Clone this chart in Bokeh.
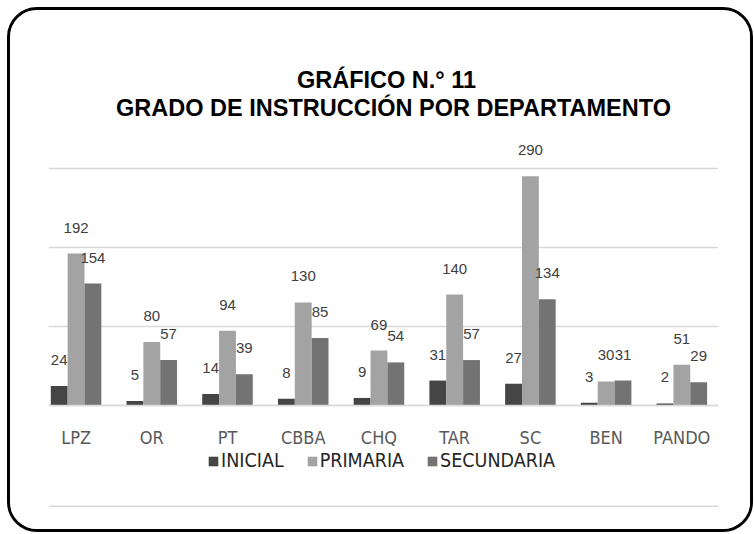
from bokeh.plotting import figure
from bokeh.models import (ColumnDataSource, Range1d, FixedTicker, LabelSet, Label,
                          Legend, LegendItem, Span)
from bokeh.core.properties import value
from bokeh.transform import dodge
from bokeh.embed import file_html
from bokeh.resources import INLINE

# ---- data ----
departamentos = ["LPZ", "OR", "PT", "CBBA", "CHQ", "TAR", "SC", "BEN", "PANDO"]
inicial = [24, 5, 14, 8, 9, 31, 27, 3, 2]
primaria = [192, 80, 94, 130, 69, 140, 290, 30, 51]
secundaria = [154, 57, 39, 85, 54, 57, 134, 31, 29]
series_names = ["INICIAL", "PRIMARIA", "SECUNDARIA"]
series_colors = ["#454545", "#a3a3a3", "#737373"]
grid_values = [0, 100, 200, 300]
title_lines = ["GRÁFICO N.° 11", "GRADO DE INSTRUCCIÓN POR DEPARTAMENTO"]

idx = list(range(len(departamentos)))
source = ColumnDataSource(dict(x=idx, INICIAL=inicial, PRIMARIA=primaria,
                               SECUNDARIA=secundaria))

FONT = "DejaVu Sans Condensed"
TFONT = "Liberation Sans"

# canvas 740x519 inside a 3px rounded border
p = figure(width=740, height=519, output_backend="svg", toolbar_location=None,
           x_range=Range1d(-0.364, 8.484), y_range=Range1d(-155.13, 489.74),
           min_border_left=38, min_border_right=38, min_border_top=8,
           min_border_bottom=8, outline_line_color=None,
           background_fill_color="white", border_fill_color="white")
p.title.visible = False
p.styles = {"border": "3px solid black", "border-radius": "30px",
            "box-sizing": "content-box", "overflow": "hidden",
            "margin-left": "7px", "margin-top": "7px"}

bw = 0.2225
offsets = [-bw, 0.0, bw]
renderers = []
for name, color, off in zip(series_names, series_colors, offsets):
    r = p.vbar(x=dodge("x", off, range=p.x_range), top=name, width=bw,
               source=source, fill_color=color, line_color=None)
    renderers.append(r)
    labels = LabelSet(x=dodge("x", off, range=p.x_range), y=name, text=name,
                      source=source, text_align="center", text_baseline="middle",
                      y_offset=26, text_font=value(TFONT),
                      text_font_size="15px", text_color="#404040")
    p.add_layout(labels)

# axes and grid
p.yaxis.visible = False
p.yaxis.ticker = FixedTicker(ticks=grid_values)
p.ygrid.ticker = FixedTicker(ticks=grid_values)
p.ygrid.grid_line_color = "#d9d9d9"
p.ygrid.grid_line_width = 1.5
p.xgrid.visible = False

p.xaxis.fixed_location = 0
p.xaxis.ticker = FixedTicker(ticks=idx)
p.xaxis.major_label_overrides = {i: d for i, d in enumerate(departamentos)}
p.xaxis.major_tick_line_color = None
p.xaxis.minor_tick_line_color = None
p.xaxis.axis_line_color = "#d9d9d9"
p.xaxis.axis_line_width = 1.5
p.xaxis.major_label_standoff = 16
p.xaxis.major_label_text_font = FONT
p.xaxis.major_label_text_font_size = "18px"
p.xaxis.major_label_text_color = "#595959"

# title lines
for txt, xs, ys in zip(title_lines, [338, 345], [448, 420]):
    p.add_layout(Label(x=xs, y=ys, x_units="screen", y_units="screen", text=txt,
                       text_align="center", text_baseline="middle",
                       text_font=TFONT, text_font_size="23.5px",
                       text_font_style="bold", text_color="black"))

legend = Legend(items=[LegendItem(label=n, renderers=[r])
                       for n, r in zip(series_names, renderers)],
                orientation="horizontal", location=(159, 55),
                glyph_width=12, glyph_height=12, label_standoff=2, spacing=22,
                label_text_font=FONT, label_text_font_size="19.5px",
                label_text_color="#262626", border_line_color=None,
                background_fill_alpha=0, padding=0, margin=0)
p.add_layout(legend)

# faint bottom rule of the chart area
p.add_layout(Span(location=-128.2, dimension="width", line_color="#d9d9d9",
                  line_width=1.5))

open("out.html", "w").write(file_html(p, INLINE))
